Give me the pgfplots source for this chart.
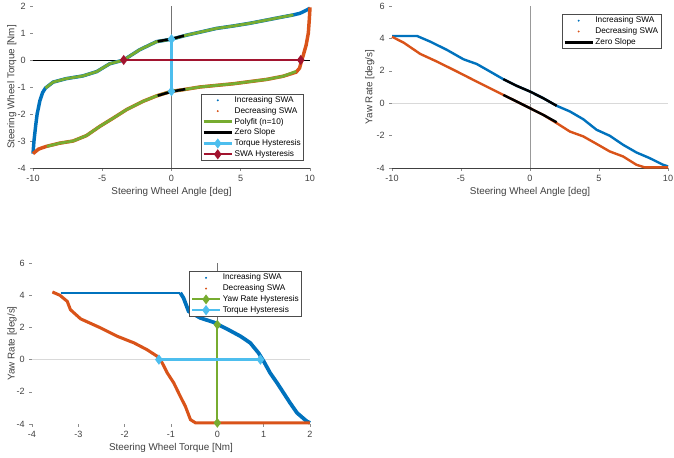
\documentclass[border=0pt]{standalone}
\usepackage{fontspec}
\setmainfont{Liberation Sans}
\usepackage{pgfplots}
\pgfplotsset{compat=1.18}
\definecolor{mblue}{RGB}{0,114,189}
\definecolor{morange}{RGB}{217,83,25}
\definecolor{mgreen}{RGB}{119,172,48}
\definecolor{mlblue}{RGB}{77,190,238}
\definecolor{mred}{RGB}{162,20,47}
\pgfplotsset{
  mstyle/.style={
    scale only axis, clip=false,
    axis line style={draw=none},
    xtick pos=bottom, ytick pos=left,
    tick align=outside, major tick length=2pt,
    tick style={black!45, line width=0.4pt},
    ticklabel style={font=\fontsize{6.8}{8}\selectfont, text=black!75},
    label style={font=\fontsize{7.4}{9}\selectfont, text=black!75},
    /pgf/number format/assume math mode=true,
    legend cell align=left,
    legend style={font=\fontsize{6.2}{7.5}\selectfont, draw=black!70, line width=0.4pt,
      inner xsep=1pt, inner ysep=0.8pt,
      nodes={inner sep=1.1pt, text height=4.6pt, text depth=1.3pt}},
  },
}
\begin{document}
\begin{tikzpicture}
\useasboundingbox (0,0) rectangle (505.5pt,342.75pt);
% ---------------- Plot 1 ----------------
\begin{axis}[mstyle, at={(24.75pt,216.75pt)}, anchor=south west,
  width=207.75pt, height=121.5pt,
  xmin=-10, xmax=10, ymin=-4, ymax=2,
  xtick={-10,-5,0,5,10}, ytick={-4,-3,-2,-1,0,1,2},
  xlabel={Steering Wheel Angle [deg]}, ylabel={Steering Wheel Torque [Nm]},
  xlabel style={at={(axis description cs:0.5,-0.148)}, anchor=center},
  ylabel style={at={(axis description cs:-0.076,0.5)}, anchor=center},
  legend image code/.code={\draw[mark repeat=2,mark phase=2,#1] plot coordinates {(0cm,0cm) (0.37cm,0cm) (0.74cm,0cm)};},
  legend style={at={(axis description cs:0.978,0.043)}, anchor=south east}]
\addlegendimage{only marks, mark=*, mark size=0.5pt, mblue}
\addlegendentry{Increasing SWA}
\addlegendimage{only marks, mark=*, mark size=0.5pt, morange}
\addlegendentry{Decreasing SWA}
\addlegendimage{mgreen, line width=2.1pt}
\addlegendentry{Polyfit (n=10)}
\addlegendimage{black, line width=1.9pt}
\addlegendentry{Zero Slope}
\addlegendimage{mlblue, line width=1.7pt, mark=diamond*, mark size=2.4pt}
\addlegendentry{Torque Hysteresis}
\addlegendimage{mred, line width=1.7pt, mark=diamond*, mark size=2.4pt}
\addlegendentry{SWA Hysteresis}
\addplot[forget plot, black!75, line width=0.5pt] coordinates {(-10,-4) (10,-4)};
\addplot[forget plot, black!55, line width=0.5pt] coordinates {(0,-4) (0,2)};
\addplot[forget plot, black, line width=0.6pt] coordinates {(-10,0) (10,0)};
\addplot[forget plot, mblue, line width=2.6pt] coordinates {
(-10,-3.47) (-9.93,-3.0) (-9.8,-2.4) (-9.7,-2.0) (-9.5,-1.5) (-9.3,-1.2) (-9.1,-1.04)
(-8.55,-0.82) (-7.6,-0.69) (-6.4,-0.59) (-5.4,-0.43) (-4.46,-0.14) (-3.45,0)
(-2.3,0.38) (-1.08,0.68) (0,0.77) (1.08,0.92) (2.05,1.03) (3.25,1.17) (4.46,1.26)
(5.66,1.36) (6.87,1.48) (8.07,1.6) (8.8,1.67) (9.28,1.73) (9.76,1.85) (10,1.92)};
\addplot[forget plot, morange, line width=2.6pt] coordinates {
(10,1.95) (9.95,1.5) (9.88,1.0) (9.72,0.55) (9.5,0.15) (9.4,0) (9.25,-0.3) (9.0,-0.45)
(8.07,-0.6) (6.87,-0.72) (5.66,-0.8) (4.46,-0.88) (3.25,-0.94) (2.05,-1.0) (0.84,-1.1)
(0,-1.16) (-1.08,-1.33) (-2.05,-1.53) (-3.25,-1.84) (-4.2,-2.15) (-5.18,-2.46)
(-6.14,-2.8) (-7.1,-3.0) (-8.07,-3.08) (-9.04,-3.2) (-9.6,-3.3) (-10,-3.47)};
\addplot[forget plot, mgreen, line width=2.1pt] coordinates {
(-9.1,-1.04) (-8.55,-0.82) (-7.6,-0.69) (-6.4,-0.59) (-5.4,-0.43) (-4.46,-0.14) (-3.45,0)
(-2.3,0.38) (-1.08,0.68) (0,0.77) (1.08,0.92) (2.05,1.03) (3.25,1.17) (4.46,1.26)
(5.66,1.36) (6.87,1.48) (8.07,1.6) (8.8,1.67)};
\addplot[forget plot, mgreen, line width=2.1pt] coordinates {
(9.0,-0.42) (8.07,-0.6) (6.87,-0.72) (5.66,-0.8) (4.46,-0.88) (3.25,-0.94) (2.05,-1.0) (0.84,-1.1)
(0,-1.16) (-1.08,-1.33) (-2.05,-1.53) (-3.25,-1.84) (-4.2,-2.15) (-5.18,-2.46)
(-6.14,-2.8) (-7.1,-3.0) (-8.07,-3.08) (-9.0,-3.2)};
\addplot[forget plot, black, line width=1.9pt] coordinates {(-1,0.69) (0,0.78) (0.9,0.90)};
\addplot[forget plot, black, line width=1.9pt] coordinates {(-1,-1.32) (0,-1.17) (1,-1.08)};
\addplot[forget plot, mlblue, line width=1.7pt, mark=diamond*, mark size=2.4pt] coordinates {(0,0.77) (0,-1.16)};
\addplot[forget plot, mred, line width=1.7pt, mark=diamond*, mark size=2.4pt] coordinates {(-3.45,0) (9.33,0)};
\end{axis}
% ---------------- Plot 2 ----------------
\begin{axis}[mstyle, at={(294pt,216.75pt)}, anchor=south west,
  width=207pt, height=121.5pt,
  xmin=-10, xmax=10, ymin=-4, ymax=6,
  xtick={-10,-5,0,5,10}, ytick={-4,-2,0,2,4,6},
  xlabel={Steering Wheel Angle [deg]}, ylabel={Yaw Rate [deg/s]},
  xlabel style={at={(axis description cs:0.5,-0.148)}, anchor=center},
  ylabel style={at={(axis description cs:-0.08,0.5)}, anchor=center},
  legend image code/.code={\draw[mark repeat=2,mark phase=2,#1] plot coordinates {(0cm,0cm) (0.37cm,0cm) (0.74cm,0cm)};},
  legend style={at={(axis description cs:0.975,0.951)}, anchor=north east}]
\addlegendimage{only marks, mark=*, mark size=0.5pt, mblue}
\addlegendentry{Increasing SWA}
\addlegendimage{only marks, mark=*, mark size=0.5pt, morange}
\addlegendentry{Decreasing SWA}
\addlegendimage{black, line width=1.9pt}
\addlegendentry{Zero Slope}
\addplot[forget plot, black!75, line width=0.5pt] coordinates {(-10,-4) (10,-4)};
\addplot[forget plot, black!40, line width=0.5pt] coordinates {(0,-4) (0,6)};
\addplot[forget plot, black!15, line width=0.5pt] coordinates {(-10,0) (10,0)};
\addplot[forget plot, mblue, line width=1.8pt] coordinates {
(-10,4.15) (-8.19,4.15) (-7.23,3.8) (-6.02,3.29) (-4.82,2.71) (-3.86,2.42) (-2.89,1.95)
(-1.93,1.48) (-0.96,1.07) (0,0.72) (0.96,0.31) (1.93,-0.16) (2.89,-0.51) (3.86,-0.99)
(4.82,-1.64) (5.78,-2.01) (6.75,-2.57) (7.71,-3.04) (8.67,-3.39) (9.64,-3.8) (10,-3.9)};
\addplot[forget plot, morange, line width=1.8pt] coordinates {
(-10,4.1) (-9.16,3.74) (-7.95,3.04) (-6.75,2.57) (-5.78,2.16) (-4.82,1.75) (-3.86,1.33)
(-2.89,0.92) (-1.93,0.51) (-0.96,0.1) (0,-0.31) (0.96,-0.72) (1.93,-1.23) (2.89,-1.75)
(3.86,-2.05) (4.82,-2.51) (5.78,-2.98) (6.75,-3.29) (7.71,-3.8) (8.31,-3.96) (10,-3.96)};
\addplot[forget plot, black, line width=1.8pt] coordinates {(-1.93,1.48) (-0.96,1.07) (0,0.72) (0.96,0.31) (1.93,-0.16)};
\addplot[forget plot, black, line width=1.8pt] coordinates {(-1.93,0.51) (-0.96,0.1) (0,-0.31) (0.96,-0.72) (1.93,-1.18)};
\end{axis}
% ---------------- Plot 3 ----------------
\begin{axis}[mstyle, at={(24pt,24.75pt)}, anchor=south west,
  width=208.5pt, height=120.75pt,
  xmin=-4, xmax=2, ymin=-4, ymax=6,
  xtick={-4,-3,-2,-1,0,1,2}, ytick={-4,-2,0,2,4,6},
  xlabel={Steering Wheel Torque [Nm]}, ylabel={Yaw Rate [deg/s]},
  xlabel style={at={(axis description cs:0.5,-0.149)}, anchor=center},
  ylabel style={at={(axis description cs:-0.072,0.5)}, anchor=center},
  legend image code/.code={\draw[mark repeat=2,mark phase=2,#1] plot coordinates {(0cm,0cm) (0.37cm,0cm) (0.74cm,0cm)};},
  legend style={at={(axis description cs:0.971,0.95)}, anchor=north east}]
\addlegendimage{only marks, mark=*, mark size=0.5pt, mblue}
\addlegendentry{Increasing SWA}
\addlegendimage{only marks, mark=*, mark size=0.5pt, morange}
\addlegendentry{Decreasing SWA}
\addlegendimage{mgreen, line width=1.6pt, mark=diamond*, mark size=2.4pt}
\addlegendentry{Yaw Rate Hysteresis}
\addlegendimage{mlblue, line width=1.8pt, mark=diamond*, mark size=2.4pt}
\addlegendentry{Torque Hysteresis}
\addplot[forget plot, black!55, line width=0.5pt] coordinates {(0,-4) (0,6)};
\addplot[forget plot, black!15, line width=0.5pt] coordinates {(-4,0) (2,0)};
\addplot[forget plot, mblue, line width=1.2pt] coordinates {(-3.38,4.15) (-0.8,4.15)};
\addplot[forget plot, mblue, line width=2.8pt] coordinates {
(-0.8,4.15) (-0.73,3.83) (-0.62,3.0) (-0.37,2.59) (-0.08,2.32) (0.21,1.9) (0.5,1.45)
(0.71,1.04) (0.89,0.41) (1.0,-0.1) (1.14,-0.83) (1.29,-1.45) (1.43,-2.07) (1.57,-2.69)
(1.72,-3.31) (1.93,-3.83) (2.0,-3.93)};
\addplot[forget plot, morange, line width=2.3pt] coordinates {
(-3.56,4.2) (-3.4,4.0) (-3.24,3.62) (-3.17,3.1) (-2.95,2.53) (-2.52,1.97) (-2.16,1.45)
(-1.8,1.04) (-1.52,0.62) (-1.3,0.21) (-1.19,-0.2) (-1.08,-0.83) (-0.94,-1.45) (-0.8,-2.28)
(-0.69,-2.9) (-0.58,-3.73) (-0.47,-3.93) (2.0,-3.93)};
\addplot[forget plot, mgreen, line width=1.6pt, mark=diamond*, mark size=2.4pt] coordinates {(0,2.17) (0,-3.93)};
\addplot[forget plot, mlblue, line width=1.8pt, mark=diamond*, mark size=2.4pt] coordinates {(-1.26,0) (0.93,0)};
\end{axis}
\end{tikzpicture}
\end{document}
